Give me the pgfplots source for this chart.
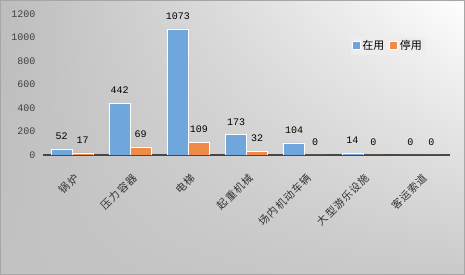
\documentclass[border=0pt]{standalone}
\usepackage{fontspec}
\setmainfont{Liberation Serif}
\newfontfamily\cjk{Noto Sans CJK SC}
\newfontfamily\numfont{Liberation Mono}
\usepackage{pgfplots}
\usetikzlibrary{shadings}
\pgfplotsset{compat=1.18}
\definecolor{cblue}{HTML}{6FA6DB}
\definecolor{corange}{HTML}{EE8B49}
\begin{document}
\begin{tikzpicture}
\path[use as bounding box] (0,0) rectangle (465pt,275pt);
\shade[upper left=black!26, upper right=white, lower left=black!24, lower right=black!21]
  (0,0) rectangle (465pt,275pt);
\draw[black!35, line width=0.8pt] (0.4pt,0.4pt) rectangle (464.6pt,274.6pt);
\begin{axis}[
  at={(43pt,120pt)}, anchor=south west,
  scale only axis, width=407pt, height=141pt,
  ymin=0, ymax=1200, ytick={0,200,...,1200},
  xmin=-0.5, xmax=6.5,
  xtick={0,...,6},
  xticklabels={锅炉,压力容器,电梯,起重机械,场内机动车辆,大型游乐设施,客运索道},
  xticklabel style={font=\cjk\fontsize{10.5}{12}\selectfont\addfontfeatures{LetterSpace=10}, text=black!80, rotate=45, anchor=east, yshift=-15pt, xshift=-5pt},
  yticklabel style={font=\numfont\fontsize{10}{11}\selectfont, text=black!75, xshift=-4pt},
  /pgf/number format/assume math mode=true,
  /pgf/number format/1000 sep={},
  axis x line*=bottom, axis y line*=left,
  y axis line style={draw=none},
  x axis line style={line width=1.6pt, draw=black!72},
  tick style={draw=none},
  ybar=0pt, bar width=21pt,
  nodes near coords,
  nodes near coords style={font=\numfont\fontsize{10}{11}\selectfont, text=black, anchor=south, yshift=6pt},
  legend style={at={(0.94,0.84)}, anchor=north east, fill=black!7, draw=none,
    font=\cjk\fontsize{11}{12}\selectfont, legend columns=2,
    /tikz/every even column/.append style={column sep=3pt}, inner sep=1.5pt},
  legend image code/.code={\fill[#1] (0pt,-4pt) rectangle (8pt,4pt);},
]
\addplot[fill=cblue, draw=white, line width=0.4pt] coordinates {(0,52) (1,442) (2,1073) (3,173) (4,104) (5,14) (6,0)};
\addplot[fill=corange, draw=white, line width=0.4pt] coordinates {(0,17) (1,69) (2,109) (3,32) (4,0) (5,0) (6,0)};
\legend{在用,停用}
\end{axis}
\end{tikzpicture}
\end{document}
